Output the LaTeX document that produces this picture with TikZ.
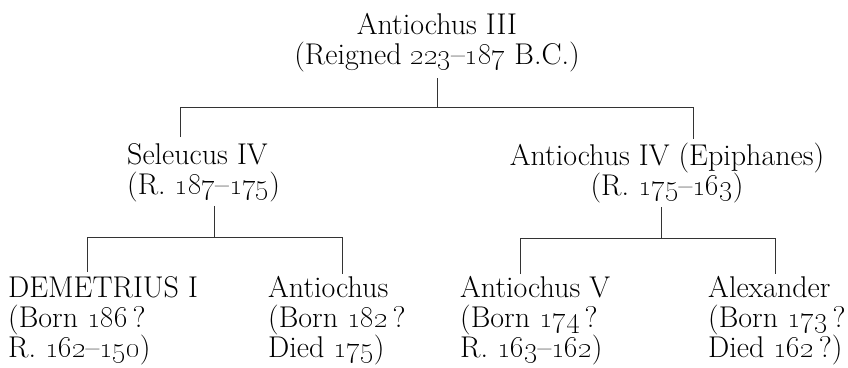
\documentclass[tikz,border=0pt]{standalone}
\newcommand{\os}[1]{\oldstylenums{#1}}
\begin{document}
\begin{tikzpicture}[x=1pt,y=-1pt,
  every node/.style={inner sep=0pt, font=\fontsize{30}{30}\selectfont},
  person/.style={align=left, anchor=north west},
  centred/.style={align=center, anchor=north},
  ruler/.style={line width=1pt, black!80}]
\useasboundingbox (0,0) rectangle (848,367);

% generation 1
\node[centred] (a3) at (437,13) {Antiochus III\\(Reigned \os{223}--\os{187} B.C.)};

% generation 2
\node[person] (s4) at (127,143) {Seleucus IV\\(R. \os{187}--\os{175})};
\node[centred] (a4) at (667,143) {Antiochus IV (Epiphanes)\\(R. \os{175}--\os{163})};

% generation 3
\node[person] (d1) at (8,276) {DEMETRIUS I\\(Born \os{186}\,?\\R. \os{162}--\os{150})};
\node[person] (an) at (268,276) {Antiochus\\(Born \os{182}\,?\\Died \os{175})};
\node[person] (a5) at (460,276) {Antiochus V\\(Born \os{174}\,?\\R. \os{163}--\os{162})};
\node[person] (al) at (708,276) {Alexander\\(Born \os{173}\,?\\Died \os{162}\,?)};

% junctions
\coordinate (j1L) at (180,107);
\coordinate (j1R) at (693,107);
\coordinate (j2L) at (87,237);
\coordinate (j2R) at (342,237);
\coordinate (j3L) at (520,238);
\coordinate (j3R) at (775,238);

% connectors
\draw[ruler, shorten <=6pt] (a3.south) -- (a3.south |- j1L);
\draw[ruler, shorten <=6pt, shorten >=4pt] (s4.north -| j1L) -- (j1L) -- (j1R) -- (a4.north -| j1R);

\draw[ruler, shorten <=4pt] (s4.south -| 214,0) -- (j2L -| 214,0);
\draw[ruler, shorten <=4pt, shorten >=2pt] (d1.north -| j2L) -- (j2L) -- (j2R) -- (an.north -| j2R);

\draw[ruler, shorten <=4pt] (a4.south -| 661,0) -- (j3L -| 661,0);
\draw[ruler, shorten <=2pt, shorten >=2pt] (a5.north -| j3L) -- (j3L) -- (j3R) -- (al.north -| j3R);
\end{tikzpicture}
\end{document}
